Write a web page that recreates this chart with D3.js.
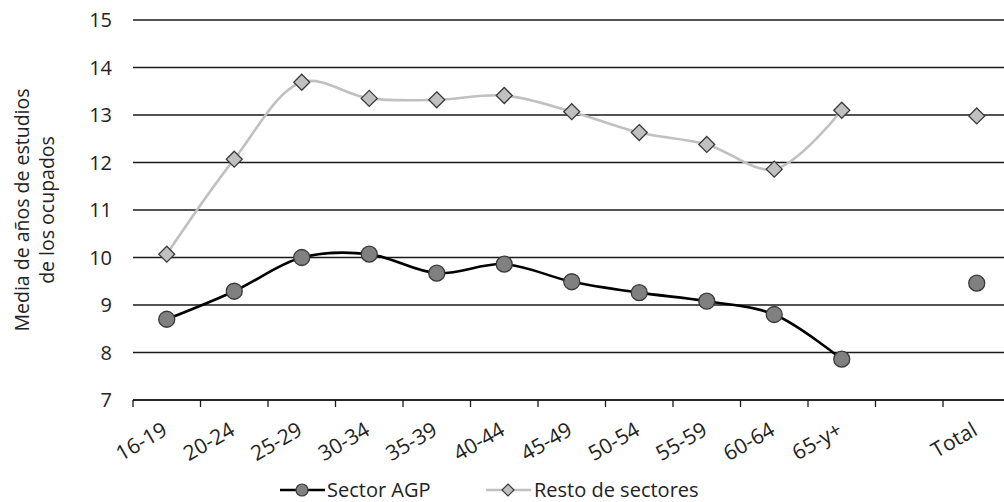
<!DOCTYPE html>
<html><head><meta charset="utf-8">
<script src="https://cdn.jsdelivr.net/npm/d3@7"></script>
<style>body{margin:0;background:#fff}svg{display:block}text{font-family:"Open Sans","Noto Sans",sans-serif;fill:#222}</style>
</head><body>
<svg id="c" width="1004" height="502"></svg>
<script>
const categories = ["16-19","20-24","25-29","30-34","35-39","40-44","45-49","50-54","55-59","60-64","65-y+","","Total"];
const sectorAGP = [8.70, 9.29, 10.00, 10.07, 9.67, 9.86, 9.49, 9.26, 9.08, 8.80, 7.86, null, 9.46];
const restoSectores = [10.07, 12.07, 13.69, 13.35, 13.32, 13.41, 13.07, 12.63, 12.38, 11.86, 13.10, null, 12.98];
const yTicks = [7, 8, 9, 10, 11, 12, 13, 14, 15];
const seriesNames = ["Sector AGP", "Resto de sectores"];

const svg = d3.select("#c");
const x = d3.scaleBand().domain(categories.map((c,i)=>i)).range([133, 1010.5]).paddingInner(0).paddingOuter(0);
const y = d3.scaleLinear().domain([7, 15]).range([400, 20]);

// gridlines
svg.append("g").selectAll("line").data(yTicks).join("line")
  .attr("x1", 133).attr("x2", 1004)
  .attr("y1", d => y(d)).attr("y2", d => y(d))
  .attr("stroke", "#1a1a1a").attr("stroke-width", 1.3);

// y labels
svg.append("g").selectAll("text").data(yTicks).join("text")
  .attr("x", 112).attr("y", d => y(d)).attr("dy", "0.35em")
  .attr("text-anchor", "end").attr("font-size", 20).text(d => d);

// x axis
const xAxis = svg.append("g").attr("transform", "translate(0,400)");
xAxis.append("line").attr("x1", 133).attr("x2", 1004).attr("stroke", "#1a1a1a").attr("stroke-width", 1.3);
xAxis.selectAll("line.t").data(categories.map((c,i)=>i)).join("line").attr("class","t")
  .attr("x1", d => x(d)).attr("x2", d => x(d)).attr("y1", 0).attr("y2", 7)
  .attr("stroke", "#1a1a1a").attr("stroke-width", 1.3);
xAxis.selectAll("text").data(categories.map((c,i)=>({c,i}))).join("text")
  .attr("transform", d => `translate(${x(d.i)+x.bandwidth()/2+2},${34}) rotate(-30)`)
  .attr("text-anchor", "end").attr("font-size", 21).text(d => d.c);

// axis title
const yt = svg.append("text").attr("transform", "translate(0,210) rotate(-90)")
  .attr("text-anchor", "middle").attr("font-size", 19.5);
yt.append("tspan").attr("x", 0).attr("y", 29).text("Media de años de estudios");
yt.append("tspan").attr("x", 0).attr("y", 54).text("de los ocupados");

const cx = i => x(i) + x.bandwidth()/2;
const line = d3.line().defined(d => d.v != null).x(d => cx(d.i)).y(d => y(d.v)).curve(d3.curveCatmullRom.alpha(0.5));
const toPts = arr => arr.map((v,i)=>({v,i}));

// connect only consecutive age groups (not the Total)
const ages = arr => toPts(arr).slice(0, 11);
svg.append("path").attr("d", line(ages(restoSectores))).attr("fill","none").attr("stroke","#c0c0c0").attr("stroke-width",2.6);
svg.append("path").attr("d", line(ages(sectorAGP))).attr("fill","none").attr("stroke","#000").attr("stroke-width",2.6);

const diamond = (cxv, cyv, r) => `M${cxv},${cyv-r}L${cxv+r},${cyv}L${cxv},${cyv+r}L${cxv-r},${cyv}Z`;
svg.append("g").selectAll("path").data(toPts(restoSectores).filter(d=>d.v!=null)).join("path")
  .attr("d", d => diamond(cx(d.i), y(d.v), 8))
  .attr("fill", "#c0c0c0").attr("stroke", "#3a3a3a").attr("stroke-width", 1.3);
svg.append("g").selectAll("circle").data(toPts(sectorAGP).filter(d=>d.v!=null)).join("circle")
  .attr("cx", d => cx(d.i)).attr("cy", d => y(d.v)).attr("r", 8)
  .attr("fill", "#808080").attr("stroke", "#3a3a3a").attr("stroke-width", 1.3);

// legend
const lg = svg.append("g").attr("transform", "translate(0,490)");
lg.append("line").attr("x1", 280).attr("x2", 325).attr("stroke", "#000").attr("stroke-width", 2.6);
lg.append("circle").attr("cx", 302).attr("cy", 0).attr("r", 6).attr("fill", "#808080").attr("stroke", "#3a3a3a").attr("stroke-width", 1.2);
lg.append("text").attr("x", 327).attr("y", 0).attr("dy", "0.35em").attr("font-size", 20).text(seriesNames[0]);
lg.append("line").attr("x1", 486).attr("x2", 531).attr("stroke", "#c0c0c0").attr("stroke-width", 2.6);
lg.append("path").attr("d", diamond(508, 0, 6)).attr("fill", "#c0c0c0").attr("stroke", "#3a3a3a").attr("stroke-width", 1.2);
lg.append("text").attr("x", 534).attr("y", 0).attr("dy", "0.35em").attr("font-size", 20).text(seriesNames[1]);
</script>
</body></html>
